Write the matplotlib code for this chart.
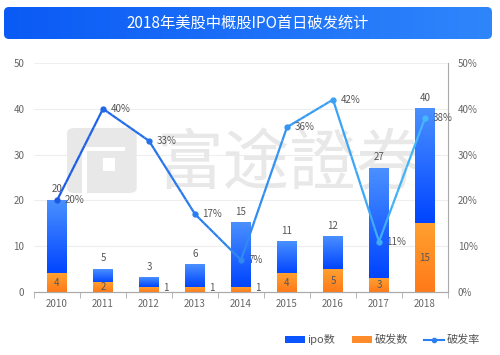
import matplotlib

matplotlib.use("Agg")
import matplotlib.pyplot as plt
import numpy as np
from matplotlib.collections import LineCollection
from matplotlib.colors import LinearSegmentedColormap, to_rgb
from matplotlib.lines import Line2D
from matplotlib.patches import FancyBboxPatch, Patch, Rectangle

plt.rcParams["font.family"] = ["Noto Sans CJK SC", "DejaVu Sans"]

years = ["2010", "2011", "2012", "2013", "2014", "2015", "2016", "2017", "2018"]
ipo_count = [20, 5, 3, 6, 15, 11, 12, 27, 40]
broken_count = [4, 2, 1, 1, 1, 4, 5, 3, 15]
broken_rate = [20, 40, 33, 17, 7, 36, 42, 11, 38]

title = "2018年美股中概股IPO首日破发统计"
watermark = "富途證券"

fig = plt.figure(figsize=(5.0, 3.55), dpi=100)

# title banner, axes in pixel units so the corner radius stays round
banner = fig.add_axes([4 / 500, 1 - 39 / 355, 488 / 500, 32 / 355])
banner.set_xlim(0, 488)
banner.set_ylim(0, 32)
banner.axis("off")
grad = np.linspace(0, 1, 256).reshape(1, -1)
cmap_banner = LinearSegmentedColormap.from_list("b", ["#0a5af5", "#2f86fb"])
box = FancyBboxPatch((0, 0), 488, 32, boxstyle="round,pad=0,rounding_size=5",
                     facecolor="none", edgecolor="none")
banner.add_patch(box)
im = banner.imshow(grad, extent=[0, 488, 0, 32], aspect="auto", cmap=cmap_banner)
im.set_clip_path(box)
banner.text(244, 16, title, color="white", fontsize=11, ha="center", va="center")

ax = fig.add_axes([0.068, 0.1775, 0.828, 0.645])
ax2 = ax.twinx()
x = np.arange(len(years))
w = 0.43

# watermark logo + text
wm = "#e8e8e8"
ax.add_patch(FancyBboxPatch((0.08, 0.432), 0.168, 0.284, boxstyle="round,pad=0,rounding_size=0.02",
                            transform=ax.transAxes, facecolor=wm, edgecolor="none", zorder=0.5))
for rx, ry, rw, rh in [(0.116, 0.432, 0.013, 0.195), (0.116, 0.615, 0.105, 0.02),
                       (0.166, 0.53, 0.03, 0.055)]:
    ax.add_patch(Rectangle((rx, ry), rw, rh, transform=ax.transAxes, facecolor="white",
                           edgecolor="none", zorder=0.6))
ax.text(0.617, 0.468, watermark, transform=ax.transAxes, fontsize=48, color=wm,
        ha="center", va="baseline", zorder=0.5)

for v in range(10, 51, 10):
    ax.axhline(v, color="#eeeeee", lw=0.8, zorder=0.4)


def grad_bar(xc, y0, y1, top, bottom):
    cm = LinearSegmentedColormap.from_list("g", [bottom, top])
    g = np.linspace(0, 1, 128).reshape(-1, 1)
    ax.imshow(g, extent=[xc - w / 2, xc + w / 2, y0, y1], origin="lower",
              aspect="auto", cmap=cm, zorder=2)


for i in range(len(years)):
    grad_bar(x[i], broken_count[i], ipo_count[i], "#4a90ff", "#0044ff")
    grad_bar(x[i], 0, broken_count[i], "#ffa030", "#ff7a1a")
ax.set_xlim(-0.5, len(years) - 0.5)
ax.set_ylim(0, 50)
ax2.set_ylim(0, 50)

for i in range(len(years)):
    ax.text(x[i], ipo_count[i] + 1.3, str(ipo_count[i]), ha="center", va="bottom",
            fontsize=7, color="#555555", zorder=5)
    if broken_count[i] >= 2:
        ax.text(x[i], broken_count[i] / 2, str(broken_count[i]), ha="center", va="center",
                fontsize=7, color="#555555", zorder=5)
    else:
        ax.text(x[i] + 0.3, broken_count[i] / 2 + 0.3, str(broken_count[i]), ha="left",
                va="center", fontsize=7, color="#555555", zorder=5)

# rate line with left-to-right colour gradient
c0, c1 = np.array(to_rgb("#1a5ae6")), np.array(to_rgb("#45b8f8"))
segs = []
cols = []
for i in range(len(x) - 1):
    n = 10
    xs = np.linspace(x[i], x[i + 1], n + 1)
    ys = np.linspace(broken_rate[i], broken_rate[i + 1], n + 1)
    for k in range(n):
        segs.append([[xs[k], ys[k]], [xs[k + 1], ys[k + 1]]])
        t = ((xs[k] + xs[k + 1]) / 2) / (len(x) - 1)
        cols.append(c0 + (c1 - c0) * t)
ax2.add_collection(LineCollection(segs, colors=cols, linewidths=1.6, zorder=4))
for i in range(len(x)):
    t = x[i] / (len(x) - 1)
    ax2.plot(x[i], broken_rate[i], "o", ms=3.5, color=c0 + (c1 - c0) * t, zorder=5)
    ax2.text(x[i] + 0.16, broken_rate[i], f"{broken_rate[i]}%", ha="left", va="center",
             fontsize=7, color="#555555", zorder=6)
ax2.set_xlim(-0.5, len(years) - 0.5)

ax.set_xticks(x)
ax.set_xticklabels(years)
ax.set_xticks(np.arange(-0.5, len(years)), minor=True)
ax.tick_params(axis="x", which="major", length=0, labelsize=7, colors="#666666", pad=5)
ax.tick_params(axis="x", which="minor", length=4, color="#aaaaaa", direction="out")
ax.set_yticks(range(0, 51, 10))
ax.tick_params(axis="y", length=0, labelsize=7, colors="#666666", pad=7)
ax2.set_yticks(range(0, 51, 10))
ax2.set_yticklabels([f"{v}%" for v in range(0, 51, 10)])
ax2.tick_params(axis="y", length=0, labelsize=7, colors="#666666", pad=7)

for a in (ax, ax2):
    for s in ("top", "left"):
        a.spines[s].set_visible(False)
    a.spines["bottom"].set_color("#aaaaaa")
ax.spines["right"].set_visible(False)
ax2.spines["right"].set_color("#aaaaaa")

handles = [Patch(facecolor="#0a55ff", label="ipo数"),
           Patch(facecolor="#ff8c2a", label="破发数"),
           Line2D([0], [0], color="#2a7ff0", marker="o", ms=3, lw=1.5, label="破发率")]
fig.legend(handles=handles, loc="center", bbox_to_anchor=(0.765, 0.043), ncol=3, frameon=False,
           fontsize=8, handlelength=1.8, handleheight=0.6, columnspacing=1.5, handletextpad=0.2,
           labelcolor="#555555")

fig.savefig("out.png", dpi=100)
